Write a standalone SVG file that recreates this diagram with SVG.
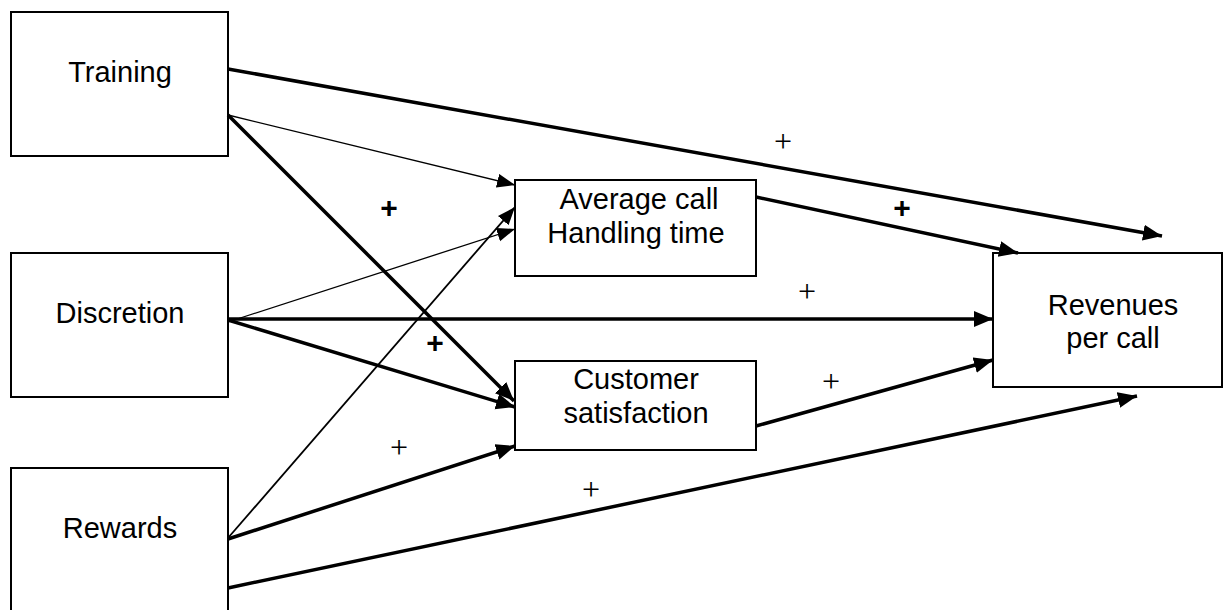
<svg xmlns="http://www.w3.org/2000/svg" width="1226" height="610" viewBox="0 0 1226 610">
<style>
.box{fill:#fff;stroke:#000;stroke-width:2}
.lbl{font-family:"Liberation Sans",Arial,sans-serif;font-size:29px;fill:#000;text-anchor:middle}
.thick{stroke:#000;stroke-width:3.5;fill:none}
.thin{stroke:#000;stroke-width:1.3;fill:none}
.mid{stroke:#000;stroke-width:1.8;fill:none}
.ps{font-family:"Liberation Serif","Times New Roman",serif;font-size:32px;fill:#000;text-anchor:middle}
.pb{font-family:"Liberation Sans",Arial,sans-serif;font-size:30px;font-weight:bold;fill:#000;text-anchor:middle}
</style>
<defs>
<marker id="ah" markerUnits="userSpaceOnUse" markerWidth="22" markerHeight="18" refX="19" refY="8" orient="auto">
<path d="M0,0 L19,8 L0,16 z" fill="#000"/>
</marker>
<marker id="ahs" markerUnits="userSpaceOnUse" markerWidth="22" markerHeight="16" refX="18" refY="7" orient="auto">
<path d="M0,0 L18,7 L0,14 z" fill="#000"/>
</marker>
</defs>
<rect width="1226" height="610" fill="#fff"/>
<g id="training"><rect class="box" x="11" y="12" width="217" height="144"/><text class="lbl" x="120" y="82">Training</text></g>
<g id="discretion"><rect class="box" x="11" y="253" width="217" height="144"/><text class="lbl" x="120" y="323">Discretion</text></g>
<g id="rewards"><rect class="box" x="11" y="468" width="217" height="160"/><text class="lbl" x="120" y="538">Rewards</text></g>
<g id="avg"><rect class="box" x="515" y="180" width="241" height="96"/><text class="lbl" x="639" y="209">Average call</text><text class="lbl" x="636" y="243">Handling time</text></g>
<g id="cust"><rect class="box" x="515" y="361" width="241" height="89"/><text class="lbl" x="636" y="389">Customer</text><text class="lbl" x="636" y="423">satisfaction</text></g>
<g id="rev"><rect class="box" x="993" y="253" width="229" height="134"/><text class="lbl" x="1113" y="315">Revenues</text><text class="lbl" x="1113" y="348">per call</text></g>
<g id="connectors">
<line class="thick" x1="228" y1="69" x2="1162" y2="236" marker-end="url(#ah)"/>
<line class="thin" x1="228" y1="115" x2="515" y2="185" marker-end="url(#ahs)"/>
<line class="thick" x1="228" y1="115" x2="514" y2="401" marker-end="url(#ah)"/>
<line class="thin" x1="228" y1="322" x2="515" y2="229" marker-end="url(#ahs)"/>
<line class="mid" x1="228" y1="538" x2="515" y2="207" marker-end="url(#ahs)"/>
<line class="thick" x1="228" y1="319" x2="993" y2="319" marker-end="url(#ah)"/>
<line class="thick" x1="228" y1="320" x2="515" y2="407" marker-end="url(#ah)"/>
<line class="thick" x1="228" y1="539" x2="515" y2="446" marker-end="url(#ah)"/>
<line class="thick" x1="228" y1="588" x2="1137" y2="396" marker-end="url(#ah)"/>
<line class="thick" x1="756" y1="197" x2="1018" y2="253" marker-end="url(#ah)"/>
<line class="thick" x1="756" y1="426" x2="993" y2="360" marker-end="url(#ah)"/>
</g>
<g id="labels">
<text class="ps" x="783" y="152">+</text>
<text class="pb" x="902" y="218">+</text>
<text class="pb" x="389" y="218">+</text>
<text class="pb" x="435" y="353">+</text>
<text class="ps" x="807" y="302">+</text>
<text class="ps" x="831" y="392">+</text>
<text class="ps" x="399" y="458">+</text>
<text class="ps" x="591" y="500">+</text>
</g>
</svg>
